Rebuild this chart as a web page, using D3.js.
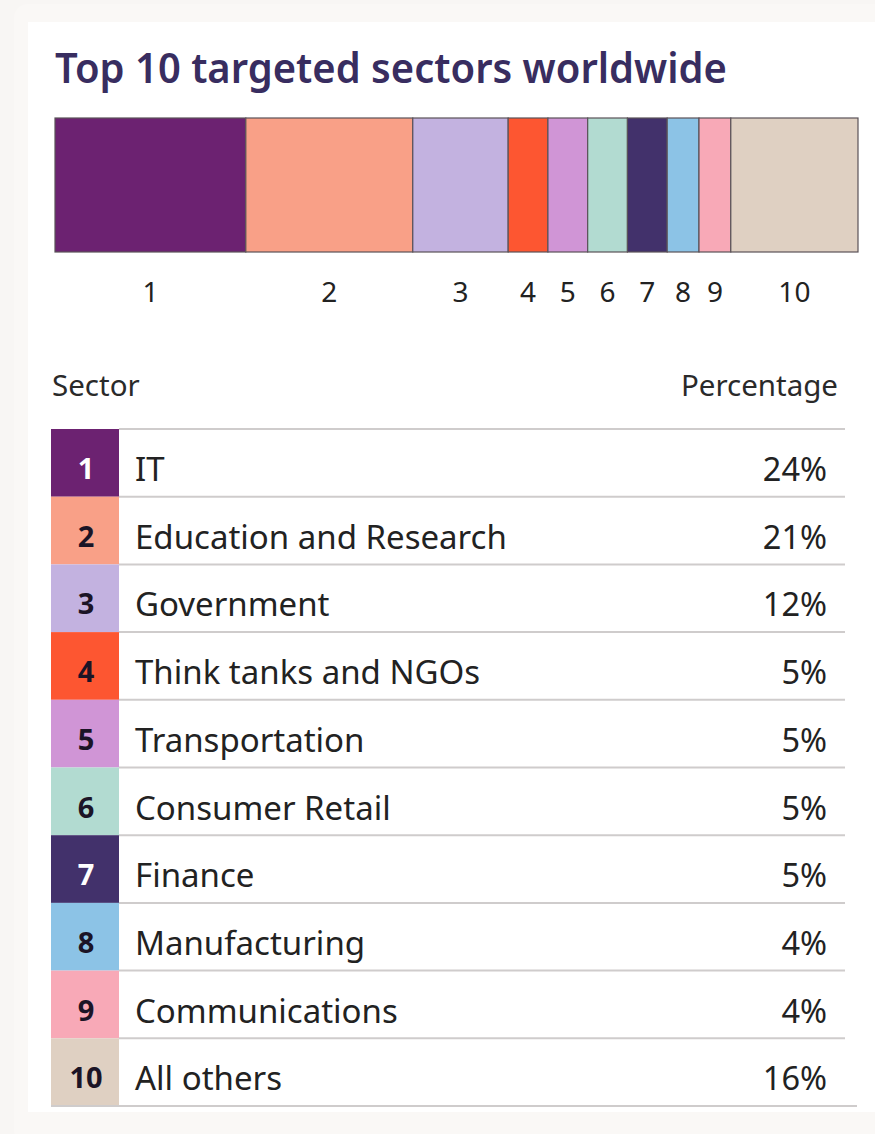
<!DOCTYPE html>
<html>
<head>
<meta charset="utf-8">
<script src="https://cdn.jsdelivr.net/npm/d3@7"></script>
<style>
  html, body { margin: 0; padding: 0; background: #f8f6f4; }
  svg { display: block; font-family: "Noto Sans", "Open Sans", sans-serif; }
</style>
</head>
<body>
<div id="container"></div>
<script>
// Chart size
const width = 875;
const height = 1134;

// Data
const ranks = ["1", "2", "3", "4", "5", "6", "7", "8", "9", "10"];
const sectors = ["IT", "Education and Research", "Government", "Think tanks and NGOs",
  "Transportation", "Consumer Retail", "Finance", "Manufacturing", "Communications", "All others"];
const percents = [24, 21, 12, 5, 5, 5, 5, 4, 4, 16];
const colors = ["#6c2271", "#f9a087", "#c3b2e0", "#fd5631", "#d095d6",
  "#b2dbd1", "#42316b", "#8cc3e6", "#f8a9b7", "#dfd0c2"];
const darkRanks = ["1", "7"]; // white numbers on these

const svg = d3.select('#container')
  .append('svg')
  .attr('width', width)
  .attr('height', height);

// card background
svg.append('rect')
  .attr('x', 14).attr('y', 4).attr('width', 880).attr('height', 1140)
  .attr('rx', 14).style('fill', '#faf8f6');
svg.append('rect')
  .attr('x', 28).attr('y', 22).attr('width', 860).attr('height', 1090)
  .style('fill', '#ffffff');

// title
svg.append('text')
  .attr('x', 55).attr('y', 83)
  .attr('textLength', 672)
  .attr('lengthAdjust', 'spacingAndGlyphs')
  .style('font-size', '41px')
  .style('font-weight', 600)
  .style('fill', '#382d60')
  .text('Top 10 targeted sectors worldwide');

// stacked bar
const starts = d3.cumsum([0].concat(percents.slice(0, -1)));
const x = d3.scaleLinear()
  .domain([0, d3.sum(percents)])
  .range([55, 858]);

const barTop = 118, barBottom = 252;

svg.selectAll('.seg')
  .data(percents)
  .enter().append('rect')
  .attr('class', 'seg')
  .attr('x', (d, i) => x(starts[i]))
  .attr('y', barTop)
  .attr('width', (d, i) => x(starts[i] + d) - x(starts[i]))
  .attr('height', barBottom - barTop)
  .style('fill', (d, i) => colors[i])
  .style('stroke', '#5a5258')
  .style('stroke-width', 1.2);

svg.selectAll('.seg-label')
  .data(percents)
  .enter().append('text')
  .attr('class', 'seg-label')
  .attr('x', (d, i) => x(starts[i] + d / 2))
  .attr('y', 302)
  .attr('text-anchor', 'middle')
  .style('font-size', '28px')
  .style('fill', '#222')
  .text((d, i) => ranks[i]);

// table headers
svg.append('text')
  .attr('x', 52).attr('y', 396)
  .style('font-size', '29.5px').style('fill', '#2a2a2a')
  .text('Sector');
svg.append('text')
  .attr('x', 838).attr('y', 396)
  .attr('text-anchor', 'end')
  .style('font-size', '29.5px').style('fill', '#2a2a2a')
  .text('Percentage');

// table rows
const y = d3.scaleBand()
  .domain(ranks)
  .range([429, 1106]);

const rows = svg.selectAll('.row')
  .data(ranks)
  .enter().append('g')
  .attr('class', 'row')
  .attr('transform', d => `translate(0,${y(d)})`);

rows.append('rect')
  .attr('x', 51).attr('y', 0)
  .attr('width', 68).attr('height', y.bandwidth())
  .style('fill', (d, i) => colors[i]);

rows.append('text')
  .attr('x', 86).attr('y', 50)
  .attr('text-anchor', 'middle')
  .style('font-size', '29px').style('font-weight', 700)
  .style('fill', d => darkRanks.includes(d) ? '#ffffff' : '#1b1426')
  .text(d => d);

rows.append('text')
  .attr('x', 135).attr('y', 52)
  .style('font-size', '33px').style('fill', '#222')
  .text((d, i) => sectors[i]);

rows.append('text')
  .attr('x', 827).attr('y', 52)
  .attr('text-anchor', 'end')
  .style('font-size', '32.5px').style('fill', '#222')
  .text((d, i) => percents[i] + '%');

// row separators
svg.append('line')
  .attr('x1', 119).attr('x2', 845)
  .attr('y1', y('1')).attr('y2', y('1'))
  .style('stroke', '#cfcccc').style('stroke-width', 2);

rows.filter(d => d !== '10').append('line')
  .attr('x1', 119).attr('x2', 845)
  .attr('y1', y.bandwidth()).attr('y2', y.bandwidth())
  .style('stroke', '#cfcccc').style('stroke-width', 2);

svg.append('line')
  .attr('x1', 51).attr('x2', 857)
  .attr('y1', 1106).attr('y2', 1106)
  .style('stroke', '#cfcccc').style('stroke-width', 2);
</script>
</body>
</html>
